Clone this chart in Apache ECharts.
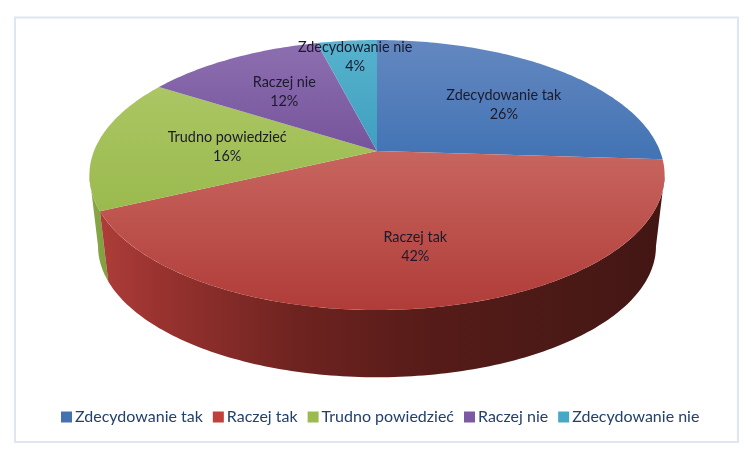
<!DOCTYPE html>
<html><head><meta charset="utf-8">
<style>html,body{margin:0;padding:0;background:#fff}#c{width:751px;height:459px}</style>
<script src="https://cdn.jsdelivr.net/npm/echarts@6/dist/echarts.min.js"></script>
</head><body><div id="c"></div>
<script>
const categories = ['Zdecydowanie tak','Raczej tak','Trudno powiedzieć','Raczej nie','Zdecydowanie nie'];
const values = [26,42,16,12,4];
const topColors = [['#6488c0','#4273b4'],['#c8655f','#b03c38'],['#abc663','#9aba4e'],['#8d6fb0','#76549c'],['#57b3ce','#3f9fbf']];
const legendColors = ['#4472b0','#c0403c','#9bbb50','#7b5aa3','#45a9c6'];
const labelReach = [0.608,0.66,0.533,0.606,0.83];
const labelShift = [1.4,0.1,-0.1,0,0.3];
const K = 0.178, DEPTH_SCALE = 0.97, DEPTH = 0.551, STEPS = 90;
// the rim's outline turns at these two points of the circle (percent clockwise from the top)
const RIM_RIGHT = Math.acos(-K) / (2 * Math.PI) * 100, RIM_LEFT = 100 - RIM_RIGHT;

const cum = []; let acc = 0;
values.forEach(v => { cum.push([acc, acc + v]); acc += v; });

// perspective projection of the disk plane to axis units
function project(pct, r) {
  const a = pct / 100 * 2 * Math.PI;
  const X = r * Math.sin(a), Y = -r * Math.cos(a), w = 1 - K * Y;
  return [X / w, Y / w];
}
const lower = p => [p[0] * DEPTH_SCALE, p[1] * DEPTH_SCALE + DEPTH];
const arcOf = (s, e) => {
  const n = Math.max(3, Math.round((e - s) / 100 * STEPS * 4)), out = [];
  for (let i = 0; i <= n; i++) out.push(project(s + (e - s) * i / n, 1));
  return out;
};

const wallFill = idx => idx === 2
  ? new echarts.graphic.LinearGradient(0,0,1,0,[{offset:0,color:'#8aa845'},{offset:1,color:'#7f9f3f'}])
  : new echarts.graphic.LinearGradient(0,0,1,0,[{offset:0,color:'#ad3d39'},{offset:.1,color:'#9a3330'},{offset:.35,color:'#6e2320'},{offset:.6,color:'#551b18'},{offset:.85,color:'#491916'},{offset:1,color:'#431613'}]);

function makeSeries(idx) {
  return {
    type:'custom', name:categories[idx], coordinateSystem:'cartesian2d', clip:false, silent:true,
    itemStyle:{color:legendColors[idx]},
    encode:{x:0,y:1},
    data:[[cum[idx][0],cum[idx][1]]],
    renderItem(params, api) {
      const s = api.value(0), e = api.value(1);
      const topPts = [api.coord(project(0,0))].concat(arcOf(s, e).map(p => api.coord(p)));
      const lab = api.coord(project((s + e) / 2 + labelShift[idx], labelReach[idx]));
      const children = [];
      const ws = Math.max(s, RIM_RIGHT), we = Math.min(e, RIM_LEFT);
      if (we > ws) {
        const arc = arcOf(ws, we);
        const wallPts = arc.map(p => api.coord(p)).concat(arc.slice().reverse().map(p => api.coord(lower(p))));
        children.push({type:'polygon',z2:idx===1?2:1,shape:{points:wallPts},style:{fill:wallFill(idx)}});
      }
      children.push({type:'polygon',z2:10,shape:{points:topPts},style:{
        fill:new echarts.graphic.LinearGradient(0,0,0,1,[{offset:0,color:topColors[idx][0]},{offset:1,color:topColors[idx][1]}])}});
      children.push({type:'text',z2:20,style:{x:lab[0],y:lab[1],text:categories[idx]+'\n'+values[idx]+'%',
        font:'14.4px Lato',fill:'#1c1a2c',align:'center',verticalAlign:'middle',lineHeight:19.5}});
      return {type:'group',children};
    }
  };
}

const chart = echarts.init(document.getElementById('c'),null,{renderer:'canvas'});
chart.setOption({
  animation:false,
  backgroundColor:'#fff',
  graphic:[{type:'rect',z:-1,shape:{x:15,y:17.5,width:723,height:424.5},style:{fill:'#fff',stroke:'#dde6f2',lineWidth:2}}],
  grid:{left:94,top:20.3,width:566,height:261.4},
  xAxis:{type:'value',min:-1,max:1,show:false},
  yAxis:{type:'value',min:-1,max:1,inverse:true,show:false},
  legend:{left:56,top:404,itemWidth:11,itemHeight:11,itemGap:10,icon:'rect',
    data:categories,textStyle:{fontFamily:'Lato',fontSize:16,color:'#24406c',padding:[0,0,0,-2]}},
  series:categories.map((c,i)=>makeSeries(i))
});
</script></body></html>
